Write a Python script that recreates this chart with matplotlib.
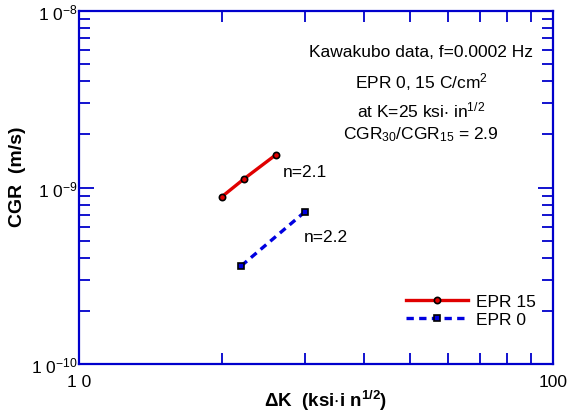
import matplotlib
matplotlib.use('Agg')
import matplotlib.pyplot as plt
import numpy as np
from matplotlib.ticker import LogLocator, FixedLocator, NullFormatter

plt.rcParams['font.family'] = ['Liberation Sans', 'DejaVu Sans']
plt.rcParams['mathtext.default'] = 'regular'

# EPR 15 (red), EPR 0 (blue)
dk_15 = [20.0, 22.3, 26.0]
cgr_15 = [8.85e-10, 1.12e-9, 1.53e-9]
dk_0 = [22.0, 30.0]
cgr_0 = [3.6e-10, 7.3e-10]

fig = plt.figure(figsize=(5.71, 4.14), dpi=100)
ax = fig.add_axes([79 / 571, 1 - 365 / 414, (553 - 79) / 571, (365 - 12) / 414])

ax.plot(dk_15, cgr_15, color='#e00000', lw=2.4, marker='o', ms=4.5,
        mfc='#e00000', mec='black', mew=1.2, label='EPR 15')
ax.plot(dk_0, cgr_0, color='#0000e0', lw=2.4, ls=(0, (2.2, 1.6)), marker='s', ms=4,
        mfc='#0000e0', mec='black', mew=1.2, label='EPR 0')

ax.set_xscale('log')
ax.set_yscale('log')
ax.set_xlim(10, 100)
ax.set_ylim(1e-10, 1e-8)

ax.xaxis.set_major_locator(FixedLocator([10, 100]))
ax.set_xticklabels(['1 0', '100'])
ax.xaxis.set_minor_locator(LogLocator(base=10, subs=np.arange(2, 10)))
ax.xaxis.set_minor_formatter(NullFormatter())
ax.yaxis.set_major_locator(FixedLocator([1e-10, 1e-9, 1e-8]))
ax.set_yticklabels(['1 0$^{-10}$', '1 0$^{-9}$', '1 0$^{-8}$'])
ax.yaxis.set_minor_locator(LogLocator(base=10, subs=np.arange(2, 10)))
ax.yaxis.set_minor_formatter(NullFormatter())

for s in ax.spines.values():
    s.set_color('#0000cc')
    s.set_linewidth(1.6)
ax.tick_params(which='both', direction='in', top=True, right=True, color='#0000cc',
               labelsize=12.5, width=1.3)
ax.tick_params(which='major', length=11)
ax.tick_params(axis='y', which='major', pad=1)
ax.tick_params(axis='x', which='major', pad=7)
ax.tick_params(which='minor', length=8)

ax.set_ylabel('CGR  (m/s)', fontsize=14, fontweight='bold')
ax.yaxis.set_label_coords(-0.112, 0.533)
ax.set_xlabel(r'$\Delta$K  (ksi$\cdot$i n$^{1/2}$)', fontsize=13.5, fontweight='bold')
ax.xaxis.set_label_coords(0.521, -0.068)

note_x = 0.722
ax.text(note_x, 0.884, 'Kawakubo data, f=0.0002 Hz', transform=ax.transAxes,
        ha='center', va='center', fontsize=12.5)
ax.text(note_x, 0.802, 'EPR 0, 15 C/cm$^{2}$', transform=ax.transAxes,
        ha='center', va='center', fontsize=12.5)
ax.text(note_x, 0.722, r'at K=25 ksi$\cdot$ in$^{1/2}$', transform=ax.transAxes,
        ha='center', va='center', fontsize=12.5)
ax.text(note_x, 0.652, 'CGR$_{30}$/CGR$_{15}$ = 2.9', transform=ax.transAxes,
        ha='center', va='center', fontsize=12.5)

ax.text(26.9, 1.24e-9, 'n=2.1', fontsize=12.5, va='center')
ax.text(29.8, 5.31e-10, 'n=2.2', fontsize=12.5, va='center')

ax.legend(loc='lower right', bbox_to_anchor=(0.997, 0.06), frameon=False, fontsize=12.5,
          handlelength=3.6, handletextpad=0.45, labelspacing=0.15)

fig.savefig('out.png', dpi=100)
